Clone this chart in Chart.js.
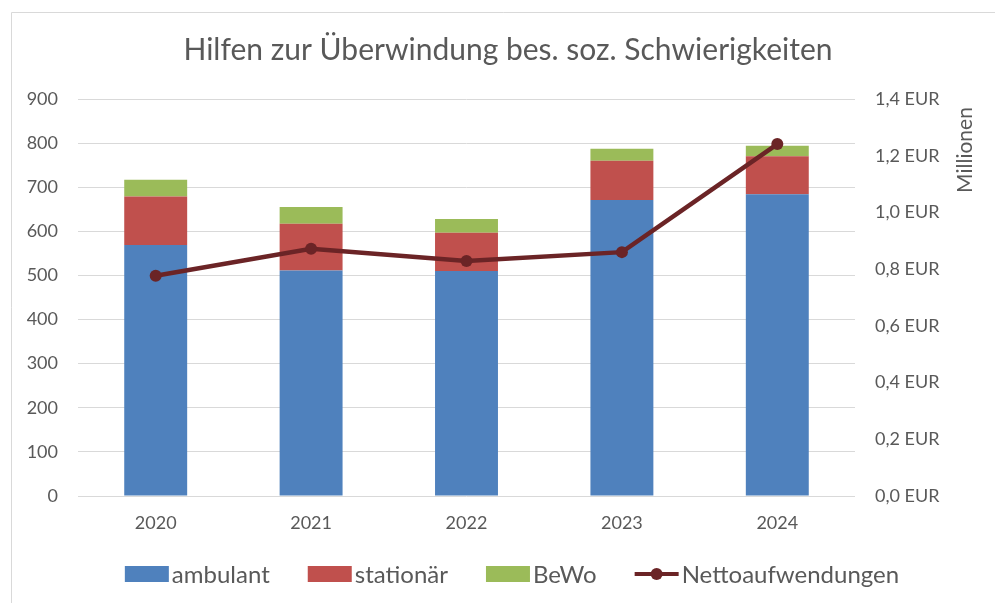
<!DOCTYPE html>
<html lang="de">
<head>
<meta charset="utf-8">
<title>Hilfen zur Überwindung bes. soz. Schwierigkeiten</title>
<script src="https://cdn.jsdelivr.net/npm/chart.js@4/dist/chart.umd.min.js"></script>
<style>
  html, body { margin: 0; padding: 0; background: #fff; }
  #wrap { width: 995px; height: 603px; position: relative; }
</style>
</head>
<body>
<div id="wrap"><canvas id="myChart" width="995" height="603"></canvas></div>
<script>
// Data
const years = ['2020', '2021', '2022', '2023', '2024'];
const ambulant = [569, 511, 510, 671, 684];
const stationaer = [110, 106, 87, 89, 86];
const bewo = [38, 38, 31, 27, 24];
const netto = [0.777, 0.872, 0.829, 0.860, 1.241]; // Mio. EUR

const leftTicks = { max: 900, step: 100 };
const rightTicks = { max: 1.4, step: 0.2 };

const FONT = 'Lato, "Open Sans", sans-serif';
const TEXT = '#595959';
const GRID = '#d9d9d9';
const LINE = '#6b2426';

// Title, frame, rotated axis unit and legend are painted by hand
const decorations = {
    id: 'decorations',
    beforeDraw(chart) {
        const c = chart.ctx;
        c.save();
        c.strokeStyle = GRID;
        c.lineWidth = 1;
        c.beginPath();
        c.moveTo(11.5, 603);
        c.lineTo(11.5, 12.5);
        c.lineTo(995, 12.5);
        c.stroke();
        c.restore();
    },
    afterDraw(chart) {
        const c = chart.ctx;
        c.save();
        c.fillStyle = TEXT;

        // title
        c.font = '30px ' + FONT;
        c.textAlign = 'center';
        c.textBaseline = 'middle';
        c.fillText('Hilfen zur Überwindung bes. soz. Schwierigkeiten', 508, 50);

        // "Millionen" next to right axis
        c.save();
        c.translate(965, 150);
        c.rotate(-Math.PI / 2);
        c.font = '21px ' + FONT;
        c.fillText('Millionen', 0, 0);
        c.restore();

        // legend
        c.font = '24px ' + FONT;
        c.textAlign = 'left';
        const items = chart.data.datasets.map(ds => ({
            label: ds.label,
            color: ds.type === 'line' ? ds.borderColor : ds.backgroundColor,
            line: ds.type === 'line'
        }));
        // legend order as in original: bars first, line last
        items.sort((a, b) => (a.line ? 1 : 0) - (b.line ? 1 : 0));
        const boxW = 44, gapText = 3, gapItem = 38;
        let total = 0;
        items.forEach((it, i) => {
            it.w = boxW + gapText + c.measureText(it.label).width;
            total += it.w + (i ? gapItem : 0);
        });
        let x = 512 - total / 2;
        const cy = 574;
        items.forEach(it => {
            if (it.line) {
                c.strokeStyle = it.color;
                c.lineWidth = 4;
                c.beginPath();
                c.moveTo(x, cy);
                c.lineTo(x + boxW, cy);
                c.stroke();
                c.fillStyle = it.color;
                c.beginPath();
                c.arc(x + boxW / 2, cy, 6, 0, Math.PI * 2);
                c.fill();
            } else {
                c.fillStyle = it.color;
                c.fillRect(x, cy - 8, boxW, 16);
            }
            c.fillStyle = TEXT;
            c.fillText(it.label, x + boxW + gapText, cy + 1);
            x += it.w + gapItem;
        });
        c.restore();
    }
};

const ctx = document.getElementById('myChart').getContext('2d');
const myChart = new Chart(ctx, {
    data: {
        labels: years,
        datasets: [
            {
                type: 'line',
                label: 'Nettoaufwendungen',
                data: netto,
                yAxisID: 'y2',
                borderColor: LINE,
                backgroundColor: LINE,
                borderWidth: 4.5,
                pointRadius: 6,
                pointBackgroundColor: LINE,
                pointBorderWidth: 0,
                order: 0
            },
            { type: 'bar', label: 'ambulant', data: ambulant, backgroundColor: '#4f81bd', stack: 's', order: 1 },
            { type: 'bar', label: 'stationär', data: stationaer, backgroundColor: '#c0504d', stack: 's', order: 1 },
            { type: 'bar', label: 'BeWo', data: bewo, backgroundColor: '#9bbb59', stack: 's', order: 1 }
        ]
    },
    options: {
        responsive: false,
        animation: false,
        devicePixelRatio: 1,
        layout: { padding: { top: 99, bottom: 67, left: 0, right: 0 } },
        datasets: {
            bar: { barPercentage: 0.405, categoryPercentage: 1 }
        },
        plugins: {
            legend: { display: false },
            title: { display: false },
            tooltip: { enabled: false }
        },
        scales: {
            x: {
                stacked: true,
                grid: { display: false, drawTicks: false },
                border: { display: false },
                ticks: { color: TEXT, font: { family: FONT, size: 18 }, padding: 16 },
                afterFit(scale) { scale.height = 40; }
            },
            y: {
                stacked: true,
                position: 'left',
                min: 0,
                max: leftTicks.max,
                ticks: { stepSize: leftTicks.step, color: TEXT, font: { family: FONT, size: 18 }, padding: 20 },
                grid: { color: GRID, lineWidth: 1, drawTicks: false },
                border: { display: false },
                afterFit(scale) { scale.width = 78; }
            },
            y2: {
                position: 'right',
                min: 0,
                max: rightTicks.max,
                ticks: {
                    stepSize: rightTicks.step,
                    color: TEXT,
                    font: { family: FONT, size: 18 },
                    padding: 20,
                    callback: v => v.toFixed(1).replace('.', ',') + ' EUR'
                },
                grid: { drawOnChartArea: false, drawTicks: false },
                border: { display: false },
                afterFit(scale) { scale.width = 140; }
            }
        }
    },
    plugins: [decorations]
});
</script>
</body>
</html>
